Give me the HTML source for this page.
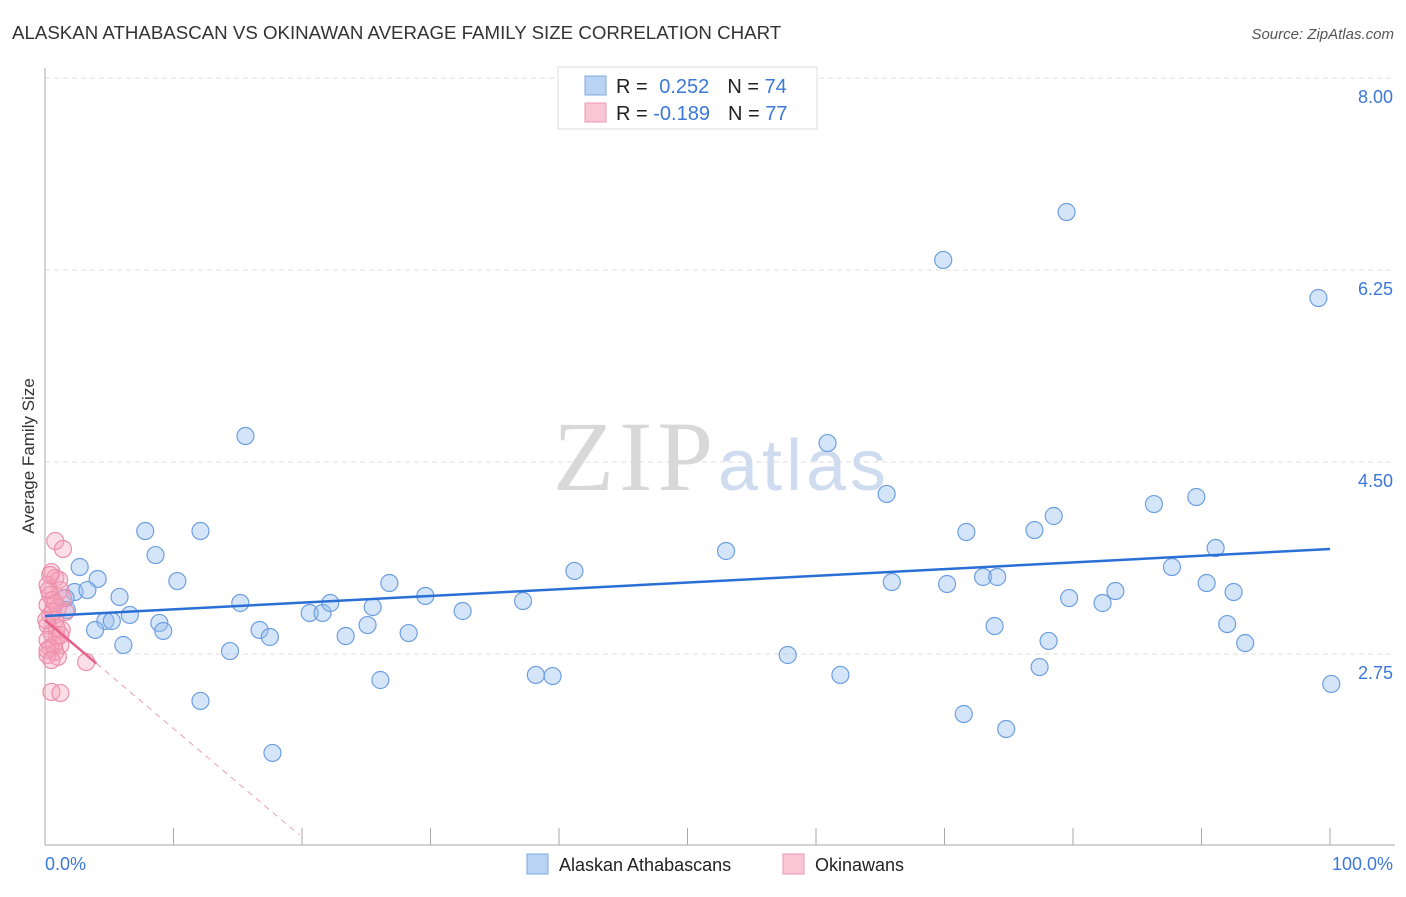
<!DOCTYPE html>
<html><head><meta charset="utf-8"><style>
body{margin:0;background:#fff;font-family:"Liberation Sans",sans-serif;}
</style></head><body>
<svg width="1406" height="892" font-family="Liberation Sans, sans-serif">
<text x="12" y="39" font-size="18.7" fill="#333">ALASKAN ATHABASCAN VS OKINAWAN AVERAGE FAMILY SIZE CORRELATION CHART</text>
<text x="1394" y="39" font-size="15" fill="#555" font-style="italic" text-anchor="end">Source: ZipAtlas.com</text>
<text transform="translate(34,456) rotate(-90)" font-size="17" fill="#333" text-anchor="middle">Average Family Size</text>
<g id="grid"></g>
<text x="553" y="490" font-size="100" fill="#d8d8d8" style="font-family:'Liberation Serif',serif" textLength="160">ZIP</text>
<text x="718" y="490" font-size="72" fill="#cfdcf0" textLength="168">atlas</text>
<g id="marks"></g>
<g>
<rect x="558" y="67" width="259" height="62" fill="#fff" stroke="#ddd"/>
<rect x="585" y="76" width="21" height="19" fill="#b9d3f5" stroke="#7fa8e0"/>
<rect x="585" y="103" width="21" height="19" fill="#f9c6d5" stroke="#ee98b2"/>
<text x="616" y="93" font-size="20" fill="#222">R = <tspan fill="#3b78d8" dx="6">0.252</tspan><tspan dx="18" fill="#222">N = </tspan><tspan fill="#3b78d8">74</tspan></text>
<text x="616" y="120" font-size="20" fill="#222">R = <tspan fill="#3b78d8">-0.189</tspan><tspan dx="18" fill="#222">N = </tspan><tspan fill="#3b78d8">77</tspan></text>
</g>
<text x="45" y="870" font-size="18" fill="#3b78d8">0.0%</text>
<text x="1393" y="870" font-size="18" fill="#3b78d8" text-anchor="end">100.0%</text>
<g>
<rect x="527" y="854" width="21" height="20" fill="#b9d3f5" stroke="#7fa8e0"/>
<text x="559" y="871" font-size="18" fill="#222">Alaskan Athabascans</text>
<rect x="783" y="854" width="21" height="20" fill="#f9c6d5" stroke="#ee98b2"/>
<text x="815" y="871" font-size="18" fill="#222">Okinawans</text>
</g>
</svg>
<script>
const yTicks=[8.00,6.25,4.50,2.75];
const yTickLabels=["8.00","6.25","4.50","2.75"];
const blueX=[15.6,60.9,69.9,79.5,99.1,7.8,12.1,8.6,2.7,4.1,10.3,2.3,3.3,5.8,1.6,1.7,6.6,4.7,5.2,3.9,8.9,9.2,6.1,15.2,20.6,21.6,22.2,16.7,17.5,23.4,25.1,25.5,26.8,28.3,29.6,32.5,37.2,41.2,38.2,39.5,26.1,14.4,12.1,17.7,53.0,57.8,61.9,65.5,65.9,70.2,71.7,73.0,74.1,73.9,71.5,74.8,77.0,78.5,77.4,78.1,79.7,82.3,83.3,86.3,87.7,89.6,90.4,91.1,92.0,92.5,93.4,100.1];
const blueY=[4.737,4.673,6.342,6.779,5.995,3.871,3.871,3.652,3.543,3.434,3.415,3.315,3.333,3.270,3.260,3.151,3.106,3.051,3.051,2.969,3.033,2.960,2.832,3.215,3.124,3.124,3.215,2.969,2.905,2.914,3.014,3.178,3.397,2.941,3.279,3.142,3.233,3.507,2.559,2.549,2.513,2.777,2.322,1.848,3.689,2.741,2.559,4.209,3.406,3.388,3.862,3.452,3.452,3.005,2.203,2.066,3.880,4.008,2.631,2.869,3.260,3.215,3.324,4.117,3.543,4.181,3.397,3.716,3.023,3.315,2.850,2.477];
const pinkX=[0.8,1.4,0.5,0.8,0.2,1.2,0.4,0.6,0.2,1.0,1.6,0.4,0.8,0.2,1.3,0.5,0.9,0.2,1.2,0.4,0.8,1.0,0.2,3.2,0.5,1.2,0.6,0.3,0.9,1.4,0.1,0.7,1.1,0.4,1.2,0.2,0.8,0.5];
const pinkY=[3.780,3.707,3.497,3.443,3.379,3.333,3.288,3.242,3.197,3.169,3.133,3.106,3.060,3.014,2.969,2.941,2.905,2.878,2.832,2.805,2.768,2.723,2.741,2.677,2.404,2.394,3.133,3.333,2.987,3.260,3.060,2.832,3.425,3.470,2.923,2.786,3.215,2.695];
const blueTrend=[3.096,3.707];
const pinkTrend=[3.06,-0.099];
const X=p=>45+p*12.85, Y=v=>654-(v-2.75)*109.7;
const NS="http://www.w3.org/2000/svg";
function mk(tag,attrs,parent){const e=document.createElementNS(NS,tag);for(const k in attrs)e.setAttribute(k,attrs[k]);parent.appendChild(e);return e;}
const grid=document.getElementById('grid'),marks=document.getElementById('marks');
yTicks.forEach((t,i)=>{
 const l=mk('line',{x1:45,x2:1395,y1:Y(t),y2:Y(t),stroke:'#ddd','stroke-dasharray':'5,4'},grid);
 
 
 const tx=mk('text',{x:1393,y:Y(t)+25,'font-size':18,fill:'#3b78d8','text-anchor':'end'},grid);
 tx.textContent=yTickLabels[i];
 
 
});
const ax=mk('line',{x1:45,x2:45,y1:68,y2:845,stroke:'#aaa'},grid);


const bx=mk('line',{x1:45,x2:1395,y1:845,y2:845,stroke:'#aaa'},grid);


for(let i=0;i<=10;i++){const t=mk('line',{x1:X(i*10),x2:X(i*10),y1:828,y2:845,stroke:'#aaa'},grid);
 
 }
blueX.forEach((x,i)=>{const c=mk('circle',{cx:X(x),cy:Y(blueY[i]),r:8.5,fill:'rgba(150,190,240,0.4)',stroke:'#6d9fe0','stroke-width':1.2},marks);
 
 });
pinkX.forEach((x,i)=>{const c=mk('circle',{cx:X(x),cy:Y(pinkY[i]),r:8.5,fill:'rgba(245,160,185,0.35)',stroke:'#ec8fab','stroke-width':1.2},marks);
 
 });
const bl=mk('line',{x1:X(0),y1:Y(blueTrend[0]),x2:X(100),y2:Y(blueTrend[1]),stroke:'#2a6fd6','stroke-width':2.5},marks);


const pe=(1.10-pinkTrend[0])/pinkTrend[1];
const pd=mk('line',{x1:X(4),y1:Y(pinkTrend[0]+pinkTrend[1]*4),x2:X(pe),y2:Y(1.10),stroke:'#eaa0b8','stroke-width':1,'stroke-dasharray':'6,5'},marks);


const ps=mk('line',{x1:X(0),y1:Y(pinkTrend[0]),x2:X(4),y2:Y(pinkTrend[0]+pinkTrend[1]*4),stroke:'#e8608a','stroke-width':2.5},marks);


</script>
</body></html>
